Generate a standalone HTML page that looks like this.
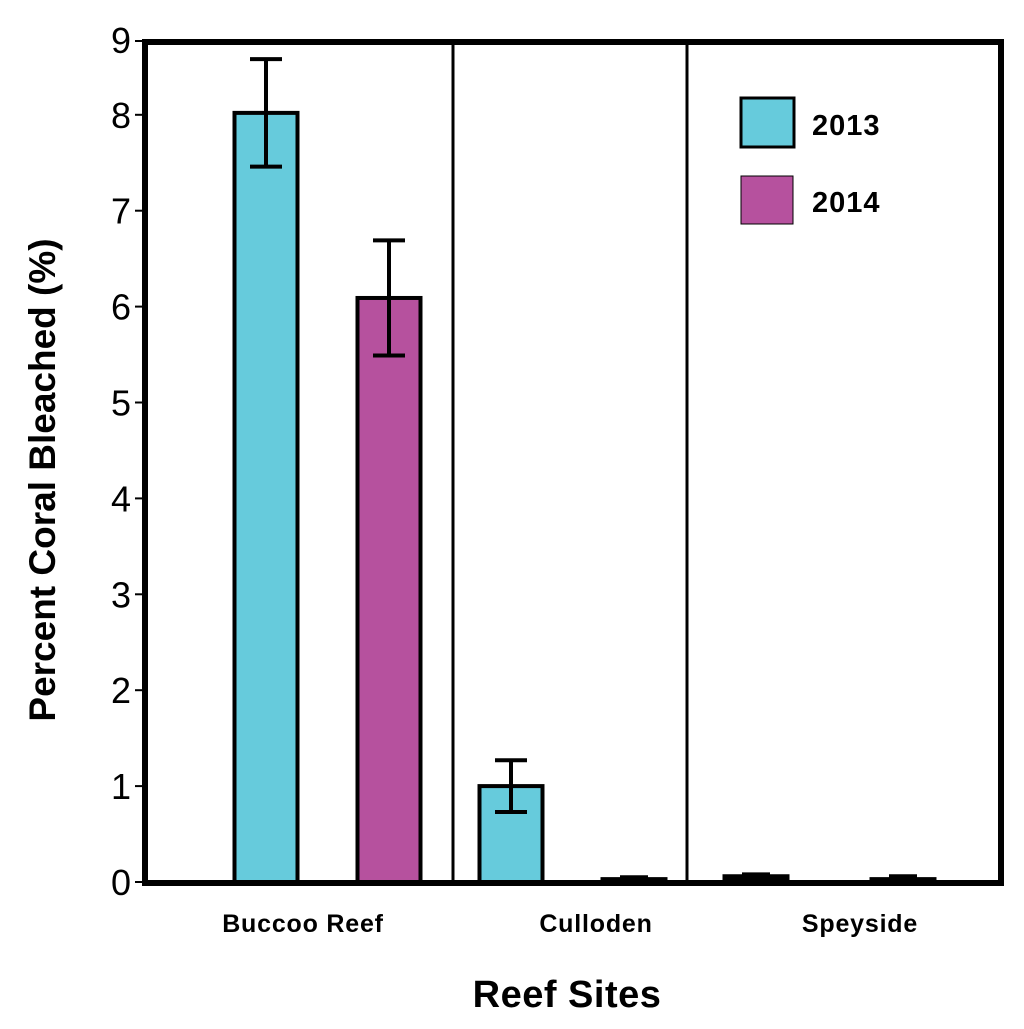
<!DOCTYPE html>
<html><head><meta charset="utf-8"><style>
body{margin:0;background:#fff}
svg text{font-family:"Liberation Sans",Arial,sans-serif}
</style></head><body>
<svg id="chart" width="1024" height="1024" viewBox="0 0 1024 1024">
<g id="marks"></g>
<rect x="145" y="42" width="856" height="841" fill="none" stroke="#000" stroke-width="6"/>
<line x1="453" y1="42" x2="453" y2="883" stroke="#000" stroke-width="3"/>
<line x1="687" y1="42" x2="687" y2="883" stroke="#000" stroke-width="3"/>
<g id="ticks"></g>
<g id="xlabels" font-weight="bold" font-size="25" letter-spacing="0.8" text-anchor="middle"></g>
<text x="567" y="1007" font-size="38" font-weight="bold" letter-spacing="0.5" text-anchor="middle">Reef Sites</text>
<text transform="translate(55,480) rotate(-90)" font-size="37" font-weight="bold" text-anchor="middle">Percent Coral Bleached (%)</text>
<g>
<rect x="741" y="98" width="53" height="49" fill="#66cbdc" stroke="#000" stroke-width="3"/>
<text x="812" y="135" font-size="29" font-weight="bold" letter-spacing="1">2013</text>
<rect x="741" y="176" width="52" height="48" fill="#b6519e" stroke="#000" stroke-width="1"/>
<text x="812" y="212" font-size="29" font-weight="bold" letter-spacing="1">2014</text>
</g>
</svg>
<script>
const categories = ["Buccoo Reef", "Culloden", "Speyside"];
const values2013 = [8.02, 1.0, 0.06];
const values2014 = [6.09, 0.03, 0.03];
const err2013 = [0.56, 0.27, 0.02];
const err2014 = [0.6, 0.02, 0.03];
const tickValues = [0, 1, 2, 3, 4, 5, 6, 7, 8];
const tickLabels = ["0", "1", "2", "3", "4", "5", "6", "7", "8"];

const NS = "http://www.w3.org/2000/svg";
const y0 = 882, unit = 95.9;
function y(v){ return y0 - v * unit; }
const groupCenters = [327.5, 572.5, 829.5];
const halfGaps = [61.5, 61.5, 73.5];
const labelX = [303, 596, 860];
const barW = 63;
function mk(tag, attrs, parent){
  const e = document.createElementNS(NS, tag);
  for (const k in attrs) e.setAttribute(k, attrs[k]);
  parent.appendChild(e); return e;
}
const marks = document.getElementById('marks');
const series = [[values2013, err2013, "#66cbdc", "2013", -1], [values2014, err2014, "#b6519e", "2014", 1]];
categories.forEach((c, i) => {
  series.forEach(s => {
    const v = s[0][i], e = s[1][i];
    const cx = groupCenters[i] + s[4] * halfGaps[i];
    const r = mk('rect', {x: cx - barW/2, y: y(v), width: barW, height: y0 - y(v), fill: v > 0.2 ? s[2] : '#000', stroke: '#000', 'stroke-width': 4}, marks);
    
    
    const g = mk('g', {stroke: '#000', 'stroke-width': 4}, marks);
    
    
    const cw = e > 0.1 ? 16 : 14;
    mk('line', {x1: cx, x2: cx, y1: y(v + e), y2: y(v - e)}, g);
    mk('line', {x1: cx - cw, x2: cx + cw, y1: y(v + e), y2: y(v + e)}, g);
    if (e > 0.1) mk('line', {x1: cx - cw, x2: cx + cw, y1: y(v - e), y2: y(v - e)}, g);
  });
  const t = mk('text', {x: labelX[i], y: 932}, document.getElementById('xlabels'));
  t.textContent = c;
  
  
});
const ticks = document.getElementById('ticks');
tickValues.forEach((v, i) => {
  const l = mk('line', {x1: 135, x2: 145, y1: y(v), y2: y(v), stroke: '#000', 'stroke-width': 2}, ticks);
  
  
  const t = mk('text', {x: 131, y: y(v) + 13, 'font-size': 36, 'text-anchor': 'end'}, ticks);
  t.textContent = tickLabels[i];
  
  
});
const t9 = mk('text', {x: 131, y: 53, 'font-size': 36, 'text-anchor': 'end'}, ticks);
t9.textContent = "9";


mk('line', {x1: 135, x2: 145, y1: 41, y2: 41, stroke: '#000', 'stroke-width': 2}, ticks);
</script>
</body></html>
